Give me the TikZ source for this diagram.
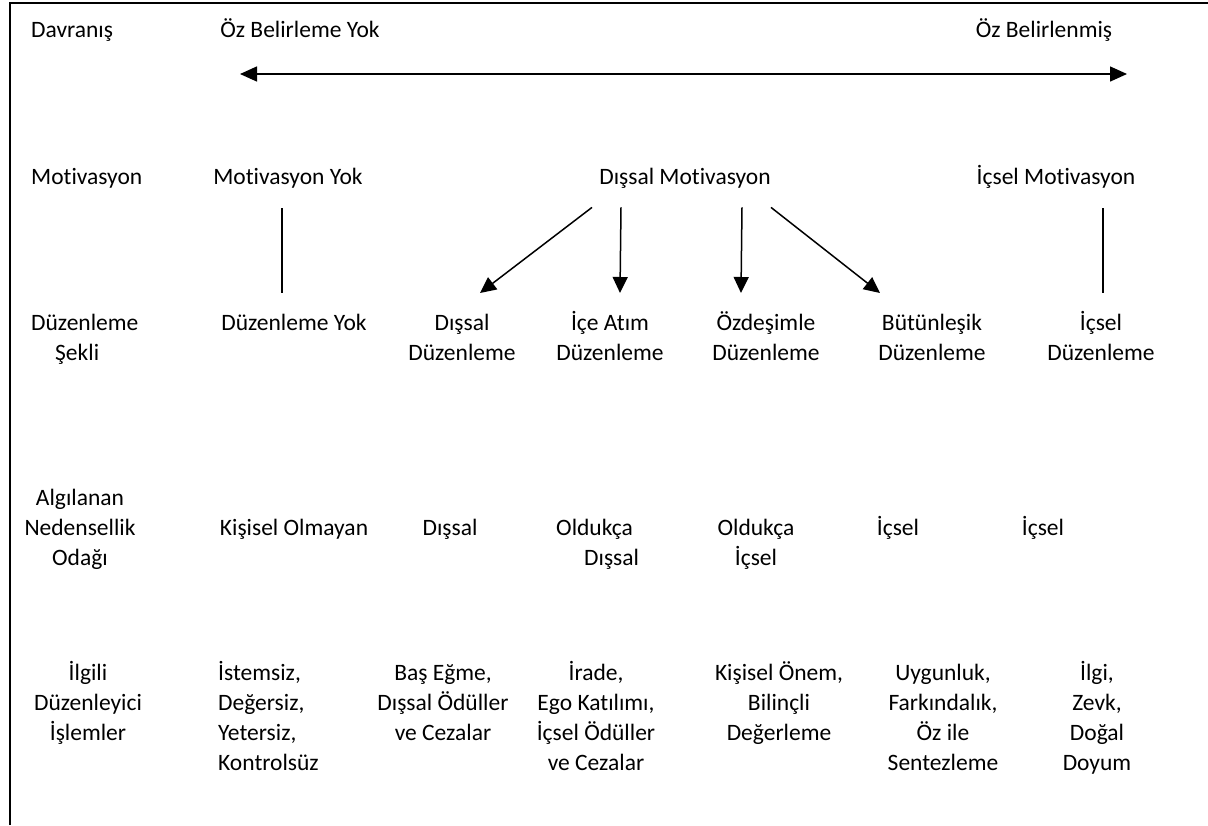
\documentclass[tikz,border=0pt]{standalone}
\usepackage{fontspec}
\setmainfont{Carlito}[Ligatures={NoCommon}]
\usetikzlibrary{arrows.meta}
\begin{document}
\begin{tikzpicture}[x=1pt,y=1pt,
  txt/.style={font=\fontsize{23.5}{30}\selectfont, inner sep=0pt, anchor=north, align=center},
  ln/.style={line width=1.5pt},
  arr/.style={line width=1.5pt, -{Triangle[length=16pt,width=15pt]}},
  darr/.style={line width=1.5pt, {Triangle[length=17pt,width=15pt]}-{Triangle[length=17pt,width=15pt]}}]
\useasboundingbox (0,0) rectangle (1208,-825);
\draw[line width=2pt] (10,-825) -- (10,-3) -- (1208,-3);

% row 1
\node[txt, anchor=north west] (dav) at (31,-16) {\strut Davranış};
\node[txt] (ob) at (300,-16) {\strut Öz Belirleme Yok};
\node[txt] (obz) at (1044,-16) {\strut Öz Belirlenmiş};
\coordinate (aL) at (240,-74);
\coordinate (aR) at (1127,-74);
\draw[darr] (aL) -- (aR);

% row 2
\node[txt, anchor=north west] (mot) at (31,-163) {\strut Motivasyon};
\node[txt] (my) at (288,-163) {\strut Motivasyon Yok};
\node[txt] (dm) at (685,-163) {\strut Dışsal Motivasyon};
\node[txt] (im) at (1056,-163) {\strut İçsel Motivasyon};

% row 3
\node[txt, anchor=north west, align=left] (dsk) at (31,-309) {\strut Düzenleme\\\hspace*{24pt}Şekli};
\node[txt] (dyok) at (294,-309) {\strut Düzenleme Yok};
\node[txt] (dd) at (462,-309) {\strut Dışsal\\Düzenleme};
\node[txt] (ia) at (610,-309) {\strut İçe Atım\\Düzenleme};
\node[txt] (od) at (766,-309) {\strut Özdeşimle\\Düzenleme};
\node[txt] (bd) at (932,-309) {\strut Bütünleşik\\Düzenleme};
\node[txt] (id) at (1101,-309) {\strut İçsel\\Düzenleme};

% connectors
\draw[ln] ([xshift=-6pt,yshift=-15pt]my.south) -- ([xshift=-12pt,yshift=16pt]dyok.north);
\draw[ln] ([xshift=47pt,yshift=-15pt]im.south) -- ([xshift=2pt,yshift=16pt]id.north);
\draw[arr] ([xshift=-93pt,yshift=-14pt]dm.south) -- ([xshift=18pt,yshift=16pt]dd.north);
\draw[arr] ([xshift=-64pt,yshift=-14pt]dm.south) -- ([xshift=10pt,yshift=16pt]ia.north);
\draw[arr] ([xshift=57pt,yshift=-14pt]dm.south) -- ([xshift=-25pt,yshift=16pt]od.north);
\draw[arr] ([xshift=86pt,yshift=-14pt]dm.south) -- ([xshift=-52pt,yshift=16pt]bd.north);

% row 4
\node[txt] (ano) at (80,-484) {\strut Algılanan\\Nedensellik\\Odağı};
\node[txt] (ko) at (294,-514) {\strut Kişisel Olmayan};
\node[txt] (ds) at (450,-514) {\strut Dışsal};
\node[txt, anchor=north west, align=left] (odd) at (556,-514) {\strut Oldukça\\\hspace*{28pt}Dışsal};
\node[txt] (odi) at (756,-514) {\strut Oldukça\\İçsel};
\node[txt] (is1) at (898,-514) {\strut İçsel};
\node[txt] (is2) at (1043,-514) {\strut İçsel};

% row 5
\node[txt] (idi) at (88,-659) {\strut İlgili\\Düzenleyici\\İşlemler};
\node[txt, anchor=north west, align=left] (ist) at (218,-659) {\strut İstemsiz,\\Değersiz,\\Yetersiz,\\Kontrolsüz};
\node[txt] (bas) at (443,-659) {\strut Baş Eğme,\\Dışsal Ödüller\\ve Cezalar};
\node[txt] (ira) at (596,-659) {\strut İrade,\\Ego Katılımı,\\İçsel Ödüller\\ve Cezalar};
\node[txt] (kon) at (779,-659) {\strut Kişisel Önem,\\Bilinçli\\Değerleme};
\node[txt] (uyg) at (943,-659) {\strut Uygunluk,\\Farkındalık,\\Öz ile\\Sentezleme};
\node[txt] (ilg) at (1097,-659) {\strut İlgi,\\Zevk,\\Doğal\\Doyum};
\end{tikzpicture}
\end{document}
